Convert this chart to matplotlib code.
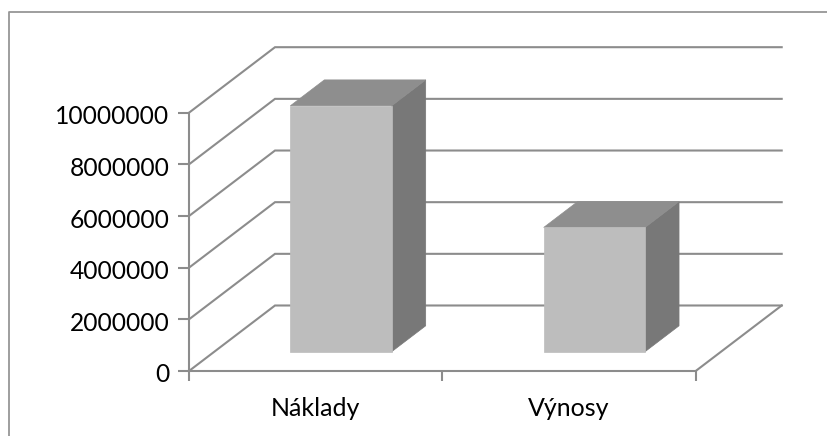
import matplotlib
matplotlib.use("Agg")
import matplotlib.pyplot as plt
from matplotlib.patches import Polygon
from matplotlib.lines import Line2D
from matplotlib.transforms import ScaledTranslation

categories = ["Náklady", "Výnosy"]
values = [9520000, 4810000]
y_ticks = [0, 2000000, 4000000, 6000000, 8000000, 10000000]

W, H = 828, 436
# oblique offset of the back wall, in data units
DEPTH_X = 86 / 253.35
DEPTH_Y = 2536000
BAR_WIDTH = 0.4
BAR_FRONT = 0.295
BAR_BACK = 0.69

LINE = "#8c8c8c"
FRONT = "#bdbdbd"
TOP = "#8e8e8e"
SIDE = "#787878"
LW = 1.5


def proj(x, y, d):
    return (x + d * DEPTH_X, y + d * DEPTH_Y)


plt.rcParams["font.family"] = ["Lato", "DejaVu Sans"]
fig = plt.figure(figsize=(W / 100, H / 100), dpi=100)
ax = fig.add_axes([189 / W, 1 - 371 / H, 506.7 / W, 258.3 / H])
ax.set_xlim(0, len(categories))
ax.set_ylim(0, 10000000)
for s in ax.spines.values():
    s.set_visible(False)
ax.patch.set_visible(False)

# chart frame, open on the right and at the bottom
fig.add_artist(Line2D([8.5 / W, 8.5 / W, 1], [0, 1 - 12.5 / H, 1 - 12.5 / H],
                      color="#969696", lw=1.3))

# axis lines and gridlines on the side and back walls
ax.plot([0, 0], [0, 10000000], color=LINE, lw=LW, clip_on=False, zorder=2)
ax.plot([0, len(categories)], [0, 0], color=LINE, lw=LW, clip_on=False, zorder=2)
for v in y_ticks:
    pts = [proj(0, v, 0), proj(0, v, 1), proj(len(categories), v, 1)]
    ax.plot([p[0] for p in pts], [p[1] for p in pts], color=LINE, lw=LW,
            clip_on=False, zorder=2, solid_joinstyle="miter")
pts = [proj(len(categories), 0, 0), proj(len(categories), 0, 1)]
ax.plot([p[0] for p in pts], [p[1] for p in pts], color=LINE, lw=LW,
        clip_on=False, zorder=2)

# 3D bars
for i, v in enumerate(values):
    c = i + 0.5
    x0, x1 = c - BAR_WIDTH / 2, c + BAR_WIDTH / 2
    front = [proj(x0, 0, BAR_FRONT), proj(x1, 0, BAR_FRONT),
             proj(x1, v, BAR_FRONT), proj(x0, v, BAR_FRONT)]
    side = [proj(x1, 0, BAR_FRONT), proj(x1, 0, BAR_BACK),
            proj(x1, v, BAR_BACK), proj(x1, v, BAR_FRONT)]
    top = [proj(x0, v, BAR_FRONT), proj(x1, v, BAR_FRONT),
           proj(x1, v, BAR_BACK), proj(x0, v, BAR_BACK)]
    for poly, col in ((side, SIDE), (top, TOP), (front, FRONT)):
        ax.add_patch(Polygon(poly, closed=True, facecolor=col, edgecolor=col,
                             lw=0.5, clip_on=False, zorder=3))

ax.set_yticks(y_ticks)
ax.set_yticklabels([str(v) for v in y_ticks])
ax.set_xticks(range(len(categories) + 1))
ax.set_xticklabels([])
ax.set_xticks([i + 0.5 for i in range(len(categories))], minor=True)
ax.set_xticklabels(categories, minor=True)
ax.tick_params(axis="y", length=8, width=LW, color=LINE, labelsize=17.7,
               labelcolor="black", pad=6)
ax.tick_params(axis="x", which="major", length=7, width=LW, color=LINE)
ax.tick_params(axis="x", which="minor", length=0, labelsize=18,
               labelcolor="black", pad=19)

# y labels sit slightly below their ticks in the reference
shift = ScaledTranslation(0, -2 / 100, fig.dpi_scale_trans)
for lab in ax.get_yticklabels():
    lab.set_transform(lab.get_transform() + shift)

fig.savefig("out.png", dpi=100)
